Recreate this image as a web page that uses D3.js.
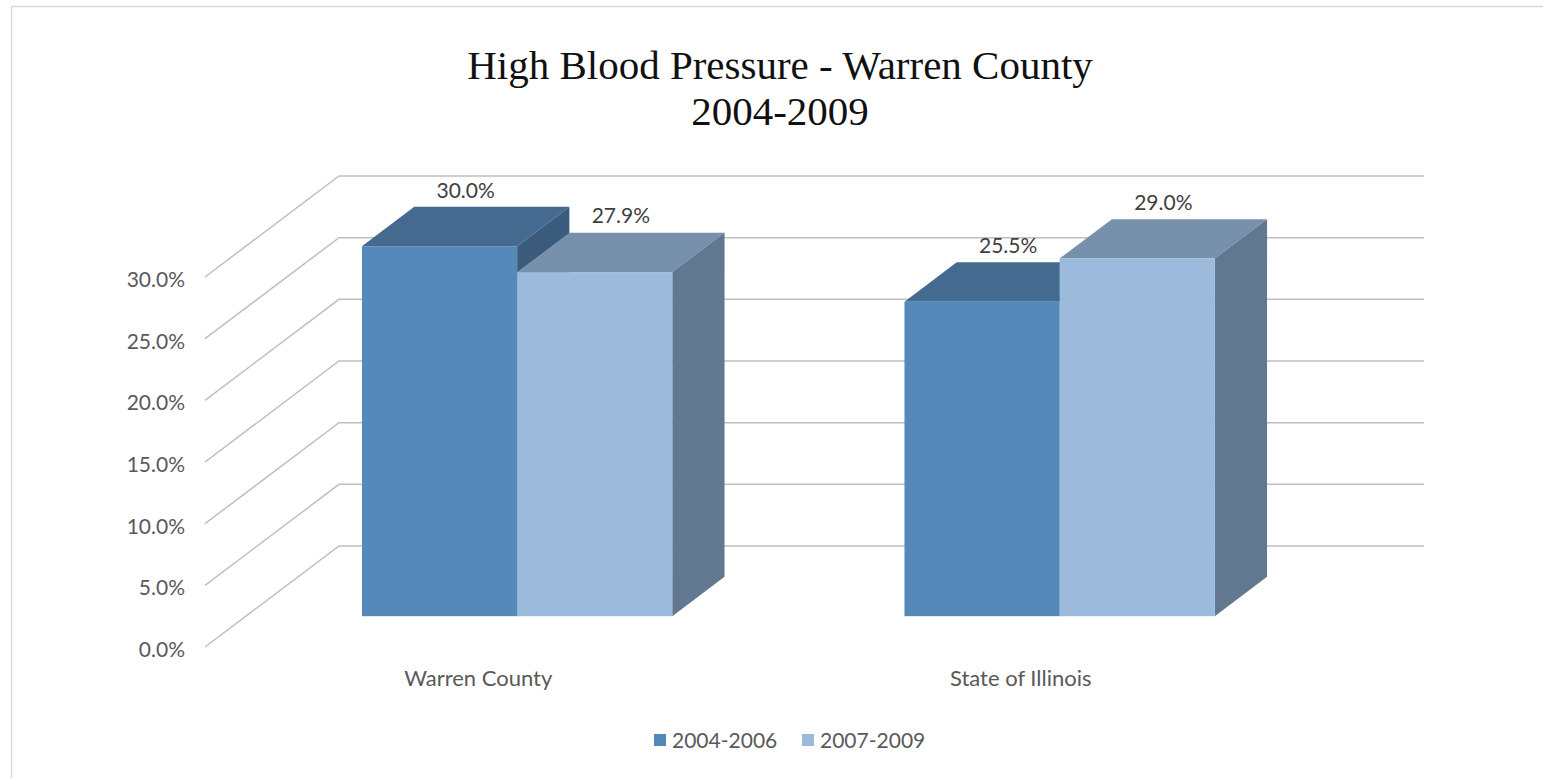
<!DOCTYPE html>
<html>
<head>
<meta charset="utf-8">
<script src="https://cdn.jsdelivr.net/npm/d3@7.9.0/dist/d3.min.js"></script>
<style>
  body { margin: 0; background: #fff; }
  svg { display: block; }
</style>
</head>
<body>
<svg id="chart" width="1543" height="778"></svg>
<script>
// chart data
const categories = ["Warren County", "State of Illinois"];
const seriesNames = ["2004-2006", "2007-2009"];
const values2004 = [30.0, 25.5];
const values2007 = [27.9, 29.0];
const yTicks = [0, 5, 10, 15, 20, 25, 30];
const titleLines = ["High Blood Pressure - Warren County", "2004-2009"];

const svg = d3.select('#chart');
const sans = 'Lato, sans-serif';

// frame (only top + left edges are visible in the shot)
svg.append('path')
    .attr('d', 'M11.5,778 L11.5,6.5 L1543,6.5')
    .attr('fill', 'none')
    .attr('stroke', '#d9d9d9')
    .attr('stroke-width', 1.5);

// title
svg.append('text')
    .attr('x', 780).attr('y', 79)
    .attr('text-anchor', 'middle')
    .style('font-family', '"Liberation Serif", serif')
    .style('font-size', '41px')
    .attr('fill', '#111')
    .selectAll('tspan')
    .data(titleLines)
    .join('tspan')
    .attr('x', 780)
    .attr('dy', (d, i) => i === 0 ? 0 : 46)
    .text(d => d);

// scales (front plane) + oblique depth offset
const x = d3.scaleBand().domain(categories).range([205, 1290]);
const xInner = d3.scaleBand().domain(seriesNames)
    .range([x.bandwidth() * 0.214, x.bandwidth() * 0.786]);
const y = d3.scaleLinear().domain([0, 30]).range([647, 277]);
const DX = 134, DY = -101;
const zFront = 0.305, zBack = 0.695;

const proj = (px, v, z) => [px + DX * z, y(v) + DY * z];
const pts = arr => arr.map(p => p.join(',')).join(' ');

const colors = {
    "2004-2006": { front: '#5589b9', top: '#446a8f', side: '#3b5b7d' },
    "2007-2009": { front: '#9bbadc', top: '#7790ab', side: '#617890' }
};

const xMin = x.range()[0], xMax = x.range()[1];

// back wall + side wall gridlines
const grid = svg.append('g').attr('stroke', '#bfbfbf').attr('stroke-width', 1.5).attr('fill', 'none');
yTicks.forEach(t => {
    const a = proj(xMin, t, 1), b = proj(xMax, t, 1), c = proj(xMin, t, 0);
    grid.append('polyline').attr('points', pts([c, a, b]));
});

// y tick labels
svg.append('g')
    .selectAll('text')
    .data(yTicks)
    .join('text')
    .attr('x', 185)
    .attr('y', d => y(d) + 10)
    .attr('text-anchor', 'end')
    .attr('fill', '#595959')
    .style('font-family', sans)
    .style('font-size', '21px')
    .text(d => d.toFixed(1) + '%');

// bars
const rows = categories.map((c, i) => ({
    cat: c,
    vals: [{ s: seriesNames[0], v: values2004[i] }, { s: seriesNames[1], v: values2007[i] }]
}));

const barG = svg.append('g');
rows.forEach(r => {
    r.vals.forEach(d => {
        const x0 = x(r.cat) + xInner(d.s);
        const x1 = x0 + xInner.bandwidth();
        const col = colors[d.s];
        barG.append('polygon')
            .attr('points', pts([proj(x0, d.v, zFront), proj(x1, d.v, zFront), proj(x1, d.v, zBack), proj(x0, d.v, zBack)]))
            .attr('fill', col.top);
        barG.append('polygon')
            .attr('points', pts([proj(x1, 0, zFront), proj(x1, d.v, zFront), proj(x1, d.v, zBack), proj(x1, 0, zBack)]))
            .attr('fill', col.side);
        const f0 = proj(x0, d.v, zFront), f1 = proj(x1, 0, zFront);
        barG.append('rect')
            .attr('x', f0[0]).attr('y', f0[1])
            .attr('width', f1[0] - f0[0]).attr('height', f1[1] - f0[1])
            .attr('fill', col.front);
    });
});

// data labels, above the middle of each bar's top face
rows.forEach(r => {
    r.vals.forEach(d => {
        const xc = x(r.cat) + xInner(d.s) + xInner.bandwidth() / 2;
        const p = proj(xc, d.v, (zFront + zBack) / 2);
        svg.append('text')
            .attr('x', p[0]).attr('y', p[1] - 29)
            .attr('text-anchor', 'middle')
            .attr('fill', '#404040')
            .style('font-family', sans)
            .style('font-size', '21px')
            .text(d.v.toFixed(1) + '%');
    });
});

// category labels
svg.append('g')
    .selectAll('text')
    .data(categories)
    .join('text')
    .attr('x', d => x(d) + x.bandwidth() / 2 + 2)
    .attr('y', 686)
    .attr('text-anchor', 'middle')
    .attr('fill', '#595959')
    .style('font-family', sans)
    .style('font-size', '22px')
    .text(d => d);

// legend
const legendX = [654, 802];
const legend = svg.append('g');
seriesNames.forEach((s, i) => {
    legend.append('rect')
        .attr('x', legendX[i]).attr('y', 734)
        .attr('width', 12).attr('height', 12)
        .attr('fill', colors[s].front);
    legend.append('text')
        .attr('x', legendX[i] + 18).attr('y', 748)
        .attr('fill', '#595959')
        .style('font-family', sans)
        .style('font-size', '21px')
        .text(s);
});
</script>
</body>
</html>
